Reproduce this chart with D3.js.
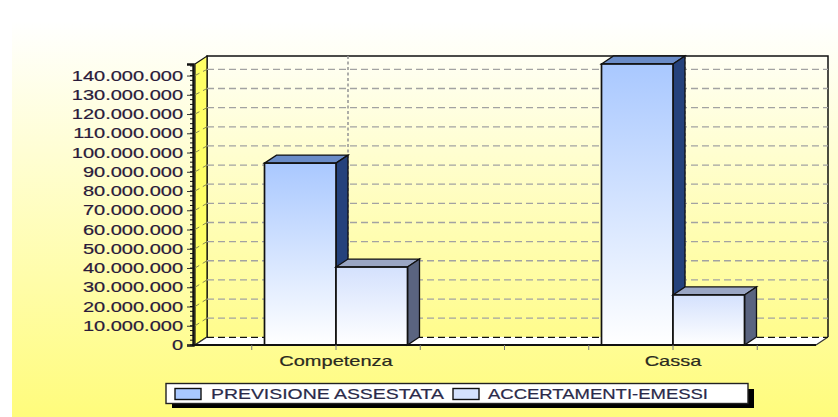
<!DOCTYPE html>
<html><head><meta charset="utf-8">
<style>html,body{margin:0;padding:0;background:#fff}svg{display:block}text{font-family:"Liberation Sans",Arial,sans-serif}</style>
<script src="https://cdn.jsdelivr.net/npm/d3@7"></script></head><body>
<svg id="c" width="838" height="417"></svg>
<script>
const categories = ["Competenza", "Cassa"];
const seriesNames = ["PREVISIONE ASSESTATA", "ACCERTAMENTI-EMESSI"];
const previsione = [94500000, 146000000];
const accertamenti = [40500000, 26000000];
const tickValues = [0,10000000,20000000,30000000,40000000,50000000,60000000,70000000,80000000,90000000,100000000,110000000,120000000,130000000,140000000];
const tickLabels = ["0","10.000.000","20.000.000","30.000.000","40.000.000","50.000.000","60.000.000","70.000.000","80.000.000","90.000.000","100.000.000","110.000.000","120.000.000","130.000.000","140.000.000"];

const W=838,H=417, dx=12, dy=8;
const svg=d3.select("#c");
const defs=svg.append("defs");
function grad(id,stops){const g=defs.append("linearGradient").attr("id",id).attr("x1",0).attr("y1",0).attr("x2",0).attr("y2",1);
 stops.forEach(s=>g.append("stop").attr("offset",s[0]).attr("stop-color",s[1]));}
grad("bg",[[0,"#ffffff"],[0.05,"#ffffff"],[1,"#fffc7c"]]);
grad("wall",[[0,"#fffff4"],[1,"#fffc8c"]]);
grad("b1",[[0,"#a9c8ff"],[1,"#ffffff"]]);
grad("b2",[[0,"#d4e1fd"],[1,"#ffffff"]]);

const y=d3.scaleLinear().domain([0,146000000]).range([345,64]);
const yBack=d3.scaleLinear().domain([0,146000000]).range([337.3,57.9]);
const x=d3.scaleBand().domain(categories).range([167.5,841.5]);
const inner=d3.scaleBand().domain(seriesNames).range([x.bandwidth()/2-71.5,x.bandwidth()/2+71.5]);
const L=195,R=816,yb=y(0),yt=y.range()[1];
const stretch=1.38;

svg.append("rect").attr("x",12).attr("y",0).attr("width",W-12).attr("height",H).attr("fill","url(#bg)");

// back wall
svg.append("rect").attr("x",L+dx).attr("y",yt-dy).attr("width",R-L).attr("height",yb-yt).attr("fill","url(#wall)");
svg.append("path").attr("d",`M${L+dx},${yb-dy}V${yt-dy}H${R+dx}V${yb-dy}`).attr("fill","none").attr("stroke","#111").attr("stroke-width",1.5);
// left wall
svg.append("path").attr("d",`M${L},${yt}L${L+dx},${yt-dy}V${yb-dy}L${L},${yb}Z`).attr("fill","#ffff66").attr("stroke","#111").attr("stroke-width",1.2);
// floor
svg.append("path").attr("d",`M${L},${yb}L${L+dx},${yb-dy}H${R+dx}L${R},${yb}Z`).attr("fill","#fff");
svg.append("path").attr("d",`M${L},${yb}L${L+dx},${yb-dy}M${R},${yb}L${R+dx},${yb-dy}`).attr("fill","none").attr("stroke","#333").attr("stroke-width",1.2);

// grid
svg.append("g").selectAll("line").data(tickValues.slice(1)).join("line")
  .attr("x1",L+dx).attr("x2",R+dx).attr("y1",d=>yBack(d)).attr("y2",d=>yBack(d))
  .attr("stroke","#a2a2a2").attr("stroke-width",1.3).attr("stroke-dasharray","7 4");
svg.append("line").attr("x1",L+dx).attr("x2",R+dx).attr("y1",yBack(0)).attr("y2",yBack(0))
  .attr("stroke","#111").attr("stroke-width",1.3).attr("stroke-dasharray","7 4");
// ticks running over the left wall
svg.append("g").selectAll("line").data(tickValues.slice(1)).join("line")
  .attr("x1",L).attr("x2",L+dx).attr("y1",d=>y(d)).attr("y2",d=>yBack(d))
  .attr("stroke","#8a8a50").attr("stroke-width",1).attr("stroke-dasharray","5 4");
svg.append("g").selectAll("line").data(categories).join("line")
  .attr("x1",d=>x(d)+x.bandwidth()/2+dx).attr("x2",d=>x(d)+x.bandwidth()/2+dx)
  .attr("y1",yt-dy).attr("y2",yb-dy).attr("stroke","#999").attr("stroke-width",1.6).attr("stroke-dasharray","3 2.5");

// bars
const fronts=["url(#b1)","url(#b2)"], tops=["#6a8cc8","#9aa6c4"], sides=["#25427c","#5a6480"];
[previsione,accertamenti].forEach((vals,si)=>{
  const name=seriesNames[si];
  const g=svg.append("g");
  categories.forEach((c,i)=>{
    const x0=x(c)+inner(name), w=inner.bandwidth(), yy=y(vals[i]);
    g.append("path").attr("d",`M${x0},${yy}L${x0+dx},${yy-dy}H${x0+w+dx}L${x0+w},${yy}Z`).attr("fill",tops[si]).attr("stroke","#111").attr("stroke-width",1.3);
    g.append("path").attr("d",`M${x0+w},${yy}L${x0+w+dx},${yy-dy}V${yb-dy}L${x0+w},${yb}Z`).attr("fill",sides[si]).attr("stroke","#111").attr("stroke-width",1.3);
    g.append("rect").attr("x",x0).attr("y",yy).attr("width",w).attr("height",yb-yy).attr("fill",fronts[si]).attr("stroke","#111").attr("stroke-width",1.7);
  });
});

// y axis
const tickFmt=new Map(tickValues.map((v,i)=>[v,tickLabels[i]]));
const ax=svg.append("g").attr("transform",`translate(${L-2},0)`).call(d3.axisLeft(y).tickValues(tickValues).tickFormat(d=>tickFmt.get(d)).tickSize(6).tickPadding(4));
ax.select(".domain").attr("stroke","#111").attr("stroke-width",2.4);
ax.selectAll("line").attr("stroke","#333");
ax.selectAll("text").attr("fill","#2a1a3a").attr("font-size",14.5).attr("stroke","#2a1a3a").attr("stroke-width",0.2)
  .attr("x",-10/stretch).attr("transform",`scale(${stretch},1)`);
// minor ticks
svg.append("path").attr("d",d3.range(0,146000000,2500000).map(v=>`M${L-5},${y(v)}H${L-2}`).join("")).attr("stroke","#111").attr("fill","none");

// front ground line & x ticks
svg.append("line").attr("x1",L-3).attr("x2",R).attr("y1",yb).attr("y2",yb).attr("stroke","#111").attr("stroke-width",2);
const xTickPos=d3.range(-1,6).map(k=>x.step()*k/4);
svg.append("g").selectAll("line").data(xTickPos).join("line")
  .attr("x1",d=>x(categories[0])+x.bandwidth()/2+d).attr("x2",d=>x(categories[0])+x.bandwidth()/2+d)
  .attr("y1",yb).attr("y2",yb+5).attr("stroke","#777");
svg.append("g").selectAll("text").data(categories).join("text")
  .attr("transform",d=>`translate(${x(d)+x.bandwidth()/2},366) scale(${stretch},1)`).attr("text-anchor","middle")
  .attr("fill","#2a2a20").attr("stroke","#2a2a20").attr("stroke-width",0.2).attr("font-size",14.5).text(d=>d);

// legend
const lg=svg.append("g");
lg.append("rect").attr("x",172).attr("y",389).attr("width",582).attr("height",19).attr("fill","#000");
lg.append("rect").attr("x",166).attr("y",383.5).attr("width",582).attr("height",20).attr("fill","#fff").attr("stroke","#222").attr("stroke-width",1.4);
const lx=[175,453], tx=[211,488], tw=[233,220], sw=["#a9c8ff","#d4e1fd"];
seriesNames.forEach((n,i)=>{
  lg.append("rect").attr("x",lx[i]).attr("y",388.5).attr("width",26).attr("height",11).attr("fill",sw[i]).attr("stroke","#111").attr("stroke-width",1.4);
  lg.append("text").attr("x",tx[i]).attr("y",399).attr("fill","#2a2a4a").attr("stroke","#2a2a4a").attr("stroke-width",0.2).attr("font-size",14.5)
    .attr("textLength",tw[i]).attr("lengthAdjust","spacingAndGlyphs").text(n);
});
</script></body></html>
